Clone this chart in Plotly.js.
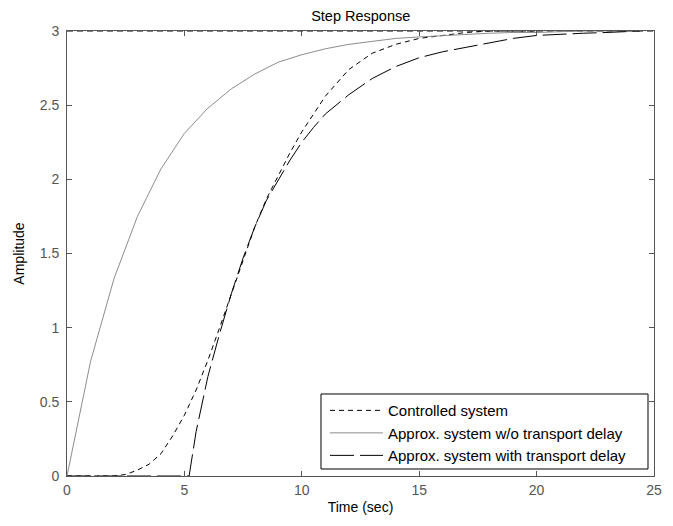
<!DOCTYPE html>
<html>
<head>
<meta charset="utf-8">
<script src="https://cdn.plot.ly/plotly-3.0.1.min.js"></script>
<style>html,body{margin:0;padding:0;background:#fff;}#chart{width:673px;height:526px;}</style>
</head>
<body>
<div id="chart"></div>
<script>
// Controlled system (short dashed black)
const tCtrl = [0, 1, 2, 2.5, 3, 3.5, 4, 4.5, 5, 5.5, 6, 6.5, 7, 7.5, 8, 8.5, 9, 9.5, 10, 11, 12, 13, 14, 15, 16, 17, 18, 19, 20];
const yCtrl = [0, 0, 0, 0.01, 0.04, 0.08, 0.15, 0.27, 0.41, 0.58, 0.78, 1.0, 1.23, 1.46, 1.68, 1.87, 2.03, 2.18, 2.32, 2.56, 2.74, 2.85, 2.91, 2.95, 2.97, 2.99, 3.0, 3.0, 3.0];

// Approx. system w/o transport delay (solid gray)
const tNoDelay = [0, 1, 2, 3, 4, 5, 6, 7, 8, 9, 10, 11, 12, 13, 14, 15, 16, 17, 18, 19, 20, 22, 24.4];
const yNoDelay = [0, 0.77, 1.33, 1.75, 2.07, 2.31, 2.48, 2.61, 2.71, 2.79, 2.84, 2.88, 2.91, 2.93, 2.95, 2.96, 2.97, 2.98, 2.985, 2.99, 2.99, 3.0, 3.0];

// Approx. system with transport delay (long dashed black)
const tDelay = [0, 5.2, 5.5, 6, 6.5, 7, 7.5, 8, 8.5, 9, 9.5, 10, 10.5, 11, 12, 13, 14, 15, 16, 17, 18, 19, 20, 21, 22, 23, 24.4];
const yDelay = [0, 0, 0.3, 0.67, 0.96, 1.23, 1.47, 1.68, 1.86, 2.0, 2.13, 2.25, 2.35, 2.44, 2.57, 2.68, 2.76, 2.82, 2.86, 2.89, 2.92, 2.95, 2.97, 2.98, 2.985, 2.99, 3.0];

// Steady-state reference line
const tFinal = [0, 25];
const yFinal = [3, 3];

const seriesNames = ["Controlled system", "Approx. system w/o transport delay", "Approx. system with transport delay"];
const xTicks = [0, 5, 10, 15, 20, 25];
const yTicks = [0, 0.5, 1, 1.5, 2, 2.5, 3];

const FONT = '"Liberation Sans", Arial, Helvetica, sans-serif';

const traces = [
  {x: tFinal, y: yFinal, mode: 'lines', showlegend: false, hoverinfo: 'skip',
   line: {color: '#000', width: 1, dash: '6px,4px'}},
  {x: tCtrl, y: yCtrl, name: seriesNames[0], mode: 'lines',
   line: {color: '#000', width: 1, dash: '5px,4px'}},
  {x: tNoDelay, y: yNoDelay, name: seriesNames[1], mode: 'lines',
   line: {color: '#8c8c8c', width: 1}},
  {x: tDelay, y: yDelay, name: seriesNames[2], mode: 'lines',
   line: {color: '#000', width: 1, dash: '24px,6px'}}
];

const axisCommon = {
  showgrid: false, zeroline: false, showline: true, mirror: 'ticks',
  linecolor: '#555', linewidth: 1, ticks: 'inside', ticklen: 5, tickcolor: '#555',
  tickfont: {family: FONT, size: 14, color: '#555'}
};

const layout = {
  width: 673, height: 526,
  margin: {l: 67, r: 19, t: 31, b: 50, pad: 0},
  paper_bgcolor: '#fff', plot_bgcolor: '#fff',
  font: {family: FONT, size: 12, color: '#000'},
  title: {text: 'Step Response', font: {family: FONT, size: 14.5, color: '#000'},
          x: 0.536, xref: 'container', y: 1 - 16/526, yref: 'container', yanchor: 'middle'},
  xaxis: Object.assign({}, axisCommon, {
    range: [0, 25], tickvals: xTicks, ticktext: xTicks.map(String), ticklabelstandoff: 1,
    title: {text: 'Time (sec)', font: {family: FONT, size: 14, color: '#000'}, standoff: 5}
  }),
  yaxis: Object.assign({}, axisCommon, {
    range: [0, 3], tickvals: yTicks, ticktext: yTicks.map(String), ticklabelstandoff: 4,
    title: {text: 'Amplitude', font: {family: FONT, size: 14, color: '#000'}, standoff: 11}
  }),
  shapes: [{
    type: 'rect', xref: 'paper', yref: 'paper', layer: 'below',
    x0: 0.4327, x1: 0.9898, y0: 0.0157, y1: 0.1843,
    fillcolor: '#fff', line: {color: '#000', width: 1}
  }],
  legend: {
    x: 0.4395, y: 0.184, xanchor: 'left', yanchor: 'top',
    bgcolor: 'rgba(0,0,0,0)', borderwidth: 0,
    font: {family: FONT, size: 15, color: '#000'},
    itemwidth: 53,
    tracegroupgap: 0
  },
  showlegend: true
};

Plotly.newPlot('chart', traces, layout, {staticPlot: true, displayModeBar: false});
</script>
</body>
</html>
